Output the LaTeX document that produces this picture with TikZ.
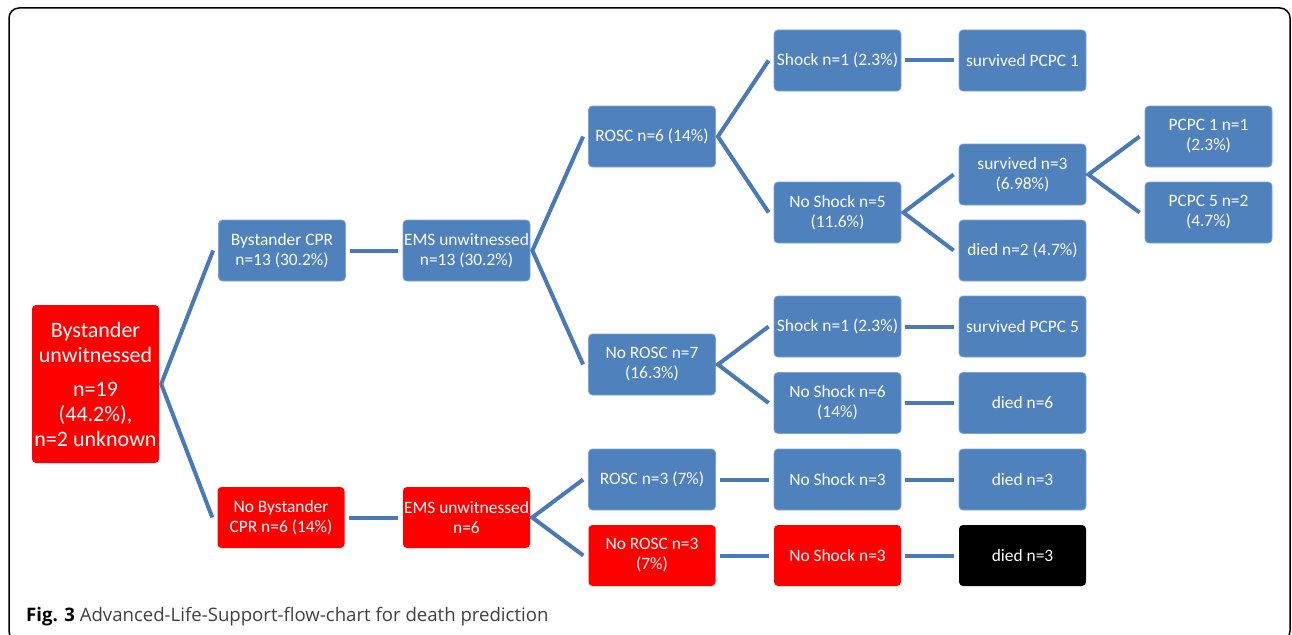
\documentclass[tikz,border=0pt]{standalone}
\usepackage{fontspec}
\setmainfont{Carlito}
\newfontfamily\capfont{Open Sans}
\usepackage{xcolor}
\usepackage{tikz}
\usetikzlibrary{positioning}
\definecolor{boxblue}{RGB}{79,129,189}
\definecolor{boxedge}{RGB}{125,163,210}
\definecolor{linkblue}{RGB}{74,122,182}
\definecolor{boxred}{RGB}{255,0,0}
\definecolor{capgray}{RGB}{64,64,64}

\begin{document}
\begin{tikzpicture}[x=1pt, y=-1pt,
    every node/.style={rectangle, rounded corners=4pt, minimum width=127pt, minimum height=61pt,
      inner sep=0pt, align=center, text=white, font=\fontsize{17.4}{20}\selectfont},
    blue box/.style={fill=boxblue, draw=boxedge, line width=0.8pt},
    red box/.style={fill=boxred},
    black box/.style={fill=black},
    link/.style={draw=linkblue, line width=4pt},
    caption/.style={minimum width=0pt, minimum height=0pt, rounded corners=0pt, text=capgray,
      font=\capfont\fontsize{18.6}{22}\selectfont},
  ]

  \useasboundingbox (0,0) rectangle (1292,634);
  \draw[rounded corners=10pt, line width=1.5pt] (9,8) rectangle (1290,641);

  % Root
  \node[red box, minimum height=158pt, font=\fontsize{22}{25}\selectfont] (root) at (95.5,384)
    {Bystander\\unwitnessed\\[9pt]n=19\\(44.2\%),\\n=2 unknown};

  % Bystander column
  \node[blue box] (bcpr)  at (282,250.5) {Bystander CPR\\n=13 (30.2\%)};
  \node[red box]  (nbcpr) at (281,517.5) {No Bystander\\CPR n=6 (14\%)};

  % EMS column
  \node[blue box] (ems13) at (466.5,250.5) {EMS unwitnessed\\n=13 (30.2\%)};
  \node[red box]  (ems6)  at (466.5,517.5) {EMS unwitnessed\\n=6};

  % ROSC column
  \node[blue box] (rosc6)   at (652,136.5) {ROSC n=6 (14\%)};
  \node[blue box] (norosc7) at (652,364.5) {No ROSC n=7\\(16.3\%)};
  \node[blue box] (rosc3)   at (652,479.5) {ROSC n=3 (7\%)};
  \node[red box]  (norosc3) at (652,555.5) {No ROSC n=3\\(7\%)};

  % Shock column
  \node[blue box] (shockA)   at (837.5,60.5)  {Shock n=1 (2.3\%)};
  \node[blue box] (noshock5) at (837.5,212.5) {No Shock n=5\\(11.6\%)};
  \node[blue box] (shockB)   at (837.5,326.5) {Shock n=1 (2.3\%)};
  \node[blue box] (noshock6) at (837.5,403)   {No Shock n=6\\(14\%)};
  \node[blue box] (noshockA) at (837.5,479.5) {No Shock n=3};
  \node[red box]  (noshockB) at (837.5,555.5) {No Shock n=3};

  % Outcome column
  \node[blue box]  (surv1)  at (1022.5,60.5)  {survived PCPC 1};
  \node[blue box]  (surv3)  at (1022.5,174.5) {survived n=3\\(6.98\%)};
  \node[blue box]  (died2)  at (1022.5,250.5) {died n=2 (4.7\%)};
  \node[blue box]  (surv5)  at (1022.5,326.5) {survived PCPC 5};
  \node[blue box]  (died6)  at (1022.5,403)   {died n=6};
  \node[blue box]  (diedA)  at (1022.5,479.5) {died n=3};
  \node[black box] (diedB)  at (1022.5,555.5) {died n=3};

  % PCPC column
  \node[blue box] (pcpc1) at (1208.5,136.5) {PCPC 1 n=1\\(2.3\%)};
  \node[blue box] (pcpc5) at (1208.5,212.5) {PCPC 5 n=2\\(4.7\%)};

  % Branches
  \draw[link] ([xshift=-5pt]bcpr.west) -- ([xshift=2pt]root.east) -- ([xshift=-5pt]nbcpr.west);
  \draw[link] ([xshift=-5pt]rosc6.west) -- ([xshift=2pt]ems13.east) -- ([xshift=-5pt]norosc7.west);
  \draw[link] ([xshift=-5pt]rosc3.west) -- ([xshift=2pt]ems6.east) -- ([xshift=-5pt]norosc3.west);
  \draw[link] ([xshift=-5pt]shockA.west) -- ([xshift=2pt]rosc6.east) -- ([xshift=-5pt]noshock5.west);
  \draw[link] ([xshift=-5pt]shockB.west) -- ([xshift=2pt]norosc7.east) -- ([xshift=-5pt]noshock6.west);
  \draw[link] ([xshift=-5pt]surv3.west) -- ([xshift=2pt]noshock5.east) -- ([xshift=-5pt]died2.west);
  \draw[link] ([xshift=-5pt]pcpc1.west) -- ([xshift=2pt]surv3.east) -- ([xshift=-5pt]pcpc5.west);

  % Straight links
  \draw[link] ([xshift=4pt]bcpr.east)     -- ([xshift=-5pt]ems13.west);
  \draw[link] ([xshift=4pt]nbcpr.east)    -- ([xshift=-5pt]ems6.west);
  \draw[link] ([xshift=4pt]rosc3.east)    -- ([xshift=-5pt]noshockA.west);
  \draw[link] ([xshift=4pt]norosc3.east)  -- ([xshift=-5pt]noshockB.west);
  \draw[link] ([xshift=4pt]shockA.east)   -- ([xshift=-5pt]surv1.west);
  \draw[link] ([xshift=4pt]shockB.east)   -- ([xshift=-5pt]surv5.west);
  \draw[link] ([xshift=4pt]noshock6.east) -- ([xshift=-5pt]died6.west);
  \draw[link] ([xshift=4pt]noshockA.east) -- ([xshift=-5pt]diedA.west);
  \draw[link] ([xshift=4pt]noshockB.east) -- ([xshift=-5pt]diedB.west);

  % Caption
  \node[caption, anchor=base west] (cap) at (26,621)
    {{\color{black}\bfseries Fig. 3} Advanced-Life-Support-flow-chart for death prediction};

\end{tikzpicture}
\end{document}
